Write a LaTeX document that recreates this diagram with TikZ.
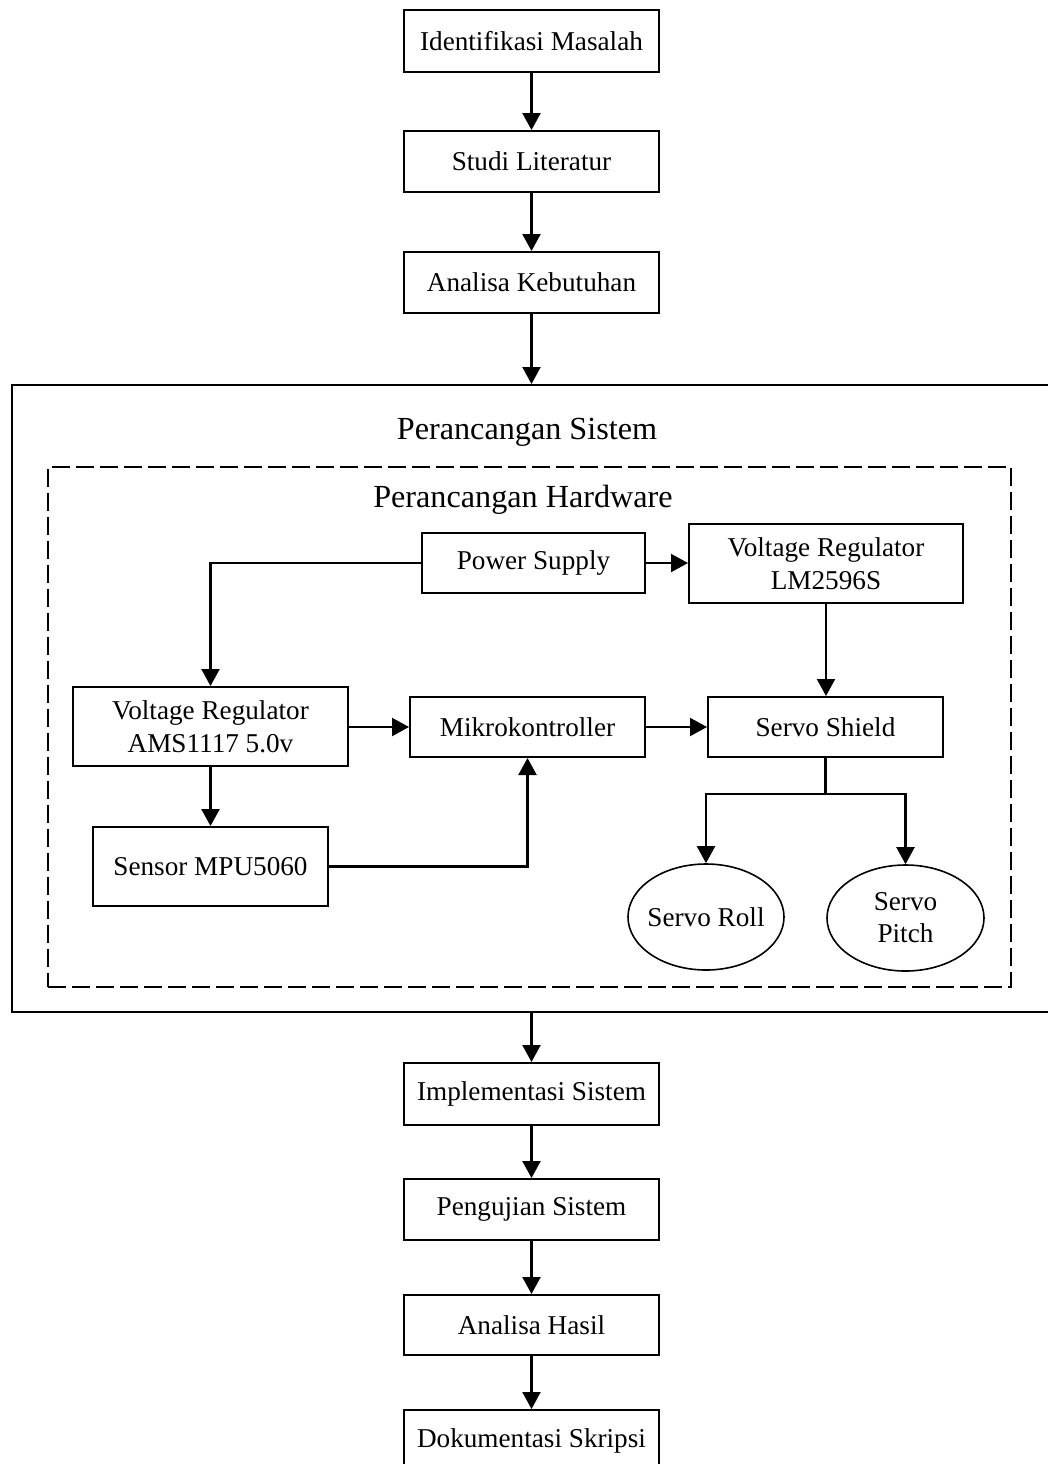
\documentclass[tikz,border=0pt]{standalone}
\usepackage{fontspec}
\setmainfont{Liberation Serif}
\usetikzlibrary{arrows.meta,calc,shapes.geometric}
\begin{document}
\begin{tikzpicture}[x=0.5pt,y=-0.5pt,
  box/.style={draw,line width=1pt,inner sep=0pt,align=center,font=\fontsize{13.6}{16.5}\selectfont},
  oval/.style={draw,ellipse,line width=0.8pt,inner ysep=0pt,inner xsep=-2pt,align=center,font=\fontsize{13.6}{16}\selectfont},
  title/.style={inner sep=0pt,font=\fontsize{16.1}{19}\selectfont},
  conn/.style={line width=1.1pt,-{Triangle[length=8.5pt,width=9pt]}},
  line/.style={line width=1.1pt}]
\useasboundingbox (0,0) rectangle (1048,1464);
\clip (0,0) rectangle (1048,1464);
% top flow
\node[box,minimum width=127.5pt,minimum height=31pt] (idm) at (531.5,41) {Identifikasi Masalah};
\node[box,minimum width=127.5pt,minimum height=30.5pt] (studi) at (531.5,161.5) {Studi Literatur};
\node[box,minimum width=127.5pt,minimum height=30.5pt] (akeb) at (531.5,282.5) {Analisa Kebutuhan};
% containers
\node[draw,line width=1pt,minimum width=524pt,minimum height=313.5pt,inner sep=0pt] (sistem) at (536,698.5) {};
\node[title] (tsis) at (527,432) {Perancangan Sistem};
\node[draw,line width=1pt,dash pattern=on 9pt off 3pt,minimum width=481.5pt,minimum height=260pt,inner sep=0pt] (hw) at (529.5,727) {};
\node[title] (thw) at (523,500) {Perancangan Hardware};
% hardware blocks
\node[box,minimum width=111.5pt,minimum height=30pt] (ps) at (533.5,563) {Power Supply};
\node[box,minimum width=137pt,minimum height=39.5pt] (lm) at (826,563.5) {Voltage Regulator\\LM2596S};
\node[box,minimum width=137.5pt,minimum height=39.5pt] (ams) at (210.5,726.5) {Voltage Regulator\\AMS1117 5.0v};
\node[box,minimum width=117.5pt,minimum height=30pt] (mikro) at (527.5,727) {Mikrokontroller};
\node[box,minimum width=117.5pt,minimum height=30pt] (shield) at (825.5,727) {Servo Shield};
\node[box,minimum width=117.5pt,minimum height=39.5pt] (mpu) at (210.5,866.5) {Sensor MPU5060};
\node[oval,minimum width=78pt,minimum height=53pt] (roll) at (706,917) {Servo Roll};
\node[oval,minimum width=78.5pt,minimum height=53pt] (pitch) at (905.5,918) {Servo\\Pitch};
% bottom flow
\node[box,minimum width=127.5pt,minimum height=31pt] (impl) at (531.5,1094) {Implementasi Sistem};
\node[box,minimum width=127.5pt,minimum height=30.5pt] (uji) at (531.5,1209.5) {Pengujian Sistem};
\node[box,minimum width=127.5pt,minimum height=30pt] (hasil) at (531.5,1325) {Analisa Hasil};
\node[box,minimum width=127.5pt,minimum height=31pt] (dok) at (531.5,1441) {Dokumentasi Skripsi};
% connectors
\draw[conn] (idm.south) -- (studi.north);
\draw[conn] (studi.south) -- (akeb.north);
\draw[conn] (akeb.south) -- (akeb.south |- sistem.north);
\draw[conn] (impl.north |- sistem.south) -- (impl.north);
\draw[conn] (impl.south) -- (uji.north);
\draw[conn] (uji.south) -- (hasil.north);
\draw[conn] (hasil.south) -- (dok.north);
\draw[conn] (ps.east) -- (ps.east -| lm.west);
\draw[conn] (ps.west) -| (ams.north);
\draw[conn] (lm.south) -- (lm.south |- shield.north);
\draw[conn] (ams.east |- mikro.west) -- (mikro.west);
\draw[conn] (mikro.east) -- (shield.west);
\draw[conn] (ams.south) -- (mpu.north);
\draw[conn] (mpu.east) -| (mikro.south);
\coordinate (split) at ($(shield.south)+(0,36)$);
\draw[line] (shield.south) -- (split);
\draw[conn] (split) -| (roll.north);
\draw[conn] (split) -| (pitch.north);
\end{tikzpicture}
\end{document}
